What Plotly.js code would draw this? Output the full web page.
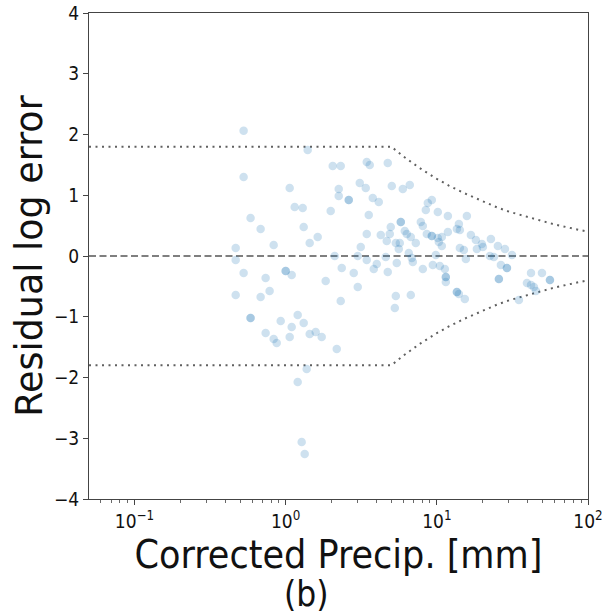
<!DOCTYPE html>
<html>
<head>
<meta charset="utf-8">
<script src="https://cdn.plot.ly/plotly-3.0.1.min.js"></script>
<style>html,body{margin:0;padding:0;background:#fff;}#chart{width:612px;height:613px;}</style>
</head>
<body>
<div id="chart"></div>
<script>
// Residual points: corrected precipitation (mm) and residual log error
const precip = [
  0.527, 1.398, 2.048, 2.313, 0.527, 1.063, 2.244, 2.244, 1.147, 1.296,
  1.986, 0.586, 1.316, 0.683, 1.629, 1.442, 0.833, 0.467, 2.111, 0.467,
  3.438, 3.600, 4.735, 3.091, 3.386, 5.035, 5.954, 6.623, 2.614, 3.767,
  4.130, 3.545, 5.775, 4.955, 6.137, 6.327, 3.438, 4.258, 4.883, 4.665,
  5.353, 5.688, 5.601, 3.139, 6.523, 2.998, 3.438, 6.828, 6.933, 4.006,
  3.827, 4.735, 5.433, 2.349, 2.820, 0.527, 0.737, 1.000, 1.096, 1.840,
  9.265, 8.718, 8.456, 10.15, 11.83, 7.836, 8.078, 7.259, 9.265, 8.586,
  10.15, 10.79, 11.83, 10.31, 10.79, 13.57, 13.99, 9.846, 15.09, 15.80,
  14.20, 6.725, 16.80, 18.12, 19.86, 20.17, 18.40, 22.79, 25.34, 28.21,
  31.41, 14.20, 4.592, 8.078, 9.407, 10.47, 11.30, 15.56, 22.44, 23.85,
  26.54, 29.09, 11.47, 11.47, 25.73, 13.57, 13.99, 15.32, 5.353, 6.725,
  5.272, 41.96, 49.60, 39.45, 41.96, 43.87, 45.26, 56.00, 34.91, 2.998,
  2.313, 0.467, 0.783, 0.683, 0.586, 0.927, 1.201, 1.096, 1.316, 0.737,
  0.833, 0.872, 1.063, 1.442, 1.580, 1.731, 2.177, 1.377, 1.201, 1.276,
  1.336,
  2.614, 5.775, 1.000, 9.265, 29.09, 11.47, 25.73, 13.57, 56.00, 0.586
];
const residual = [
  2.060, 1.745, 1.481, 1.481, 1.300, 1.119, 1.103, 0.988, 0.807, 0.790,
  0.741, 0.626, 0.477, 0.444, 0.313, 0.214, 0.181, 0.132, 0.000, -0.066,
  1.547, 1.498, 1.531, 1.202, 1.119, 1.152, 1.103, 1.169, 0.922, 0.955,
  0.889, 0.675, 0.560, 0.477, 0.412, 0.362, 0.362, 0.346, 0.362, 0.247,
  0.214, 0.214, 0.115, 0.148, 0.049, 0.000, -0.066, -0.033, -0.099, -0.132,
  -0.214, -0.263, -0.115, -0.198, -0.280, -0.280, -0.362, -0.247, -0.313, -0.412,
  0.922, 0.872, 0.757, 0.724, 0.658, 0.560, 0.494, 0.214, 0.329, 0.362,
  0.296, 0.313, 0.395, 0.230, 0.165, 0.444, 0.527, 0.016, 0.099, 0.658,
  0.428, 0.313, 0.346, 0.263, 0.198, 0.148, 0.115, 0.280, 0.165, 0.115,
  0.016, 0.132, -0.016, -0.214, -0.148, -0.165, -0.214, -0.049, 0.000, -0.016,
  -0.148, -0.198, -0.346, -0.428, -0.379, -0.593, -0.626, -0.708, -0.658, -0.642,
  -0.856, -0.280, -0.280, -0.444, -0.477, -0.510, -0.576, -0.395, -0.724, -0.510,
  -0.741, -0.642, -0.576, -0.675, -1.021, -1.070, -0.971, -1.169, -1.103, -1.267,
  -1.366, -1.432, -1.333, -1.284, -1.251, -1.333, -1.531, -1.860, -2.074, -3.062,
  -3.259,
  0.922, 0.560, -0.247, 0.329, -0.198, -0.346, -0.379, -0.593, -0.395, -1.021
];

// Error bound curves (dotted)
const boundX = [0.05, 5, 6, 7, 8, 10, 12, 15, 20, 25, 30, 40, 50, 60, 80, 100];
const boundUpper = [1.80, 1.80, 1.64, 1.52, 1.42, 1.27, 1.16, 1.04, 0.90, 0.80, 0.73, 0.64, 0.57, 0.52, 0.45, 0.40];
const boundLower = [-1.80, -1.80, -1.64, -1.52, -1.42, -1.27, -1.16, -1.04, -0.90, -0.80, -0.73, -0.64, -0.57, -0.52, -0.45, -0.40];

// Zero reference line
const zeroX = [0.05, 100];
const zeroY = [0, 0];

// Tick labels
const xTickVals = [0.1, 1, 10, 100];
const xTickText = ['10<sup>\u22121</sup>', '10<sup>0</sup>', '10<sup>1</sup>', '10<sup>2</sup>'];
const yTickVals = [-4, -3, -2, -1, 0, 1, 2, 3, 4];
const yTickText = ['\u22124', '\u22123', '\u22122', '\u22121', '0', '1', '2', '3', '4'];

const minorX = [];
[0.01, 0.1, 1, 10].forEach(d => { for (let k = 2; k <= 9; k++) { const v = d * k; if (v > 0.05 && v < 100) minorX.push(v); } });

const font = 'DejaVu Sans, sans-serif';
const fontC = 'DejaVu Sans Condensed, DejaVu Sans, sans-serif';
const traces = [
  {x: boundX, y: boundUpper, mode: 'lines', line: {color: '#606060', width: 2, dash: '2px,4.5px'}, hoverinfo: 'skip'},
  {x: boundX, y: boundLower, mode: 'lines', line: {color: '#606060', width: 2, dash: '2px,4.5px'}, hoverinfo: 'skip'},
  {x: zeroX, y: zeroY, mode: 'lines', line: {color: '#7f7f7f', width: 2, dash: '7px,3.5px'}, hoverinfo: 'skip'},
  {x: precip, y: residual, mode: 'markers', marker: {color: 'rgba(31,119,180,0.22)', size: 8.5, line: {width: 0}}}
];

const layout = {
  width: 612, height: 613,
  margin: {l: 89, r: 24, t: 13, b: 114},
  paper_bgcolor: '#fff', plot_bgcolor: '#fff',
  showlegend: false,
  font: {family: fontC, color: '#111'},
  xaxis: {
    type: 'log', range: [Math.log10(0.05), 2],
    tickmode: 'array', tickvals: xTickVals, ticktext: xTickText,
    ticks: 'outside', ticklen: 5, tickwidth: 1, tickcolor: '#444',
    minor: {tickmode: 'array', tickvals: minorX, ticks: 'outside', ticklen: 3, tickwidth: 0.8, tickcolor: '#444', showgrid: false},
    showgrid: false, zeroline: false,
    showline: true, linecolor: '#444', linewidth: 1, mirror: true,
    tickfont: {family: fontC, size: 19, color: '#111'},
    title: {text: 'Corrected Precip. [mm]', font: {family: fontC, size: 39, color: '#111'}, standoff: 0}
  },
  yaxis: {
    range: [-4, 4],
    tickmode: 'array', tickvals: yTickVals, ticktext: yTickText,
    ticks: 'outside', ticklen: 5, tickwidth: 1, tickcolor: '#444',
    showgrid: false, zeroline: false,
    showline: true, linecolor: '#444', linewidth: 1, mirror: true,
    tickfont: {family: fontC, size: 19, color: '#111'},
    title: {text: 'Residual log error', font: {family: font, size: 36.5, color: '#111'}, standoff: 0}
  },
  annotations: [
    {text: '(b)', xref: 'paper', yref: 'paper', x: 0.435, y: -0.196, xanchor: 'center', yanchor: 'middle', showarrow: false, font: {family: fontC, size: 35, color: '#111'}}
  ]
};

Plotly.newPlot('chart', traces, layout, {displayModeBar: false, staticPlot: true});
</script>
</body>
</html>
